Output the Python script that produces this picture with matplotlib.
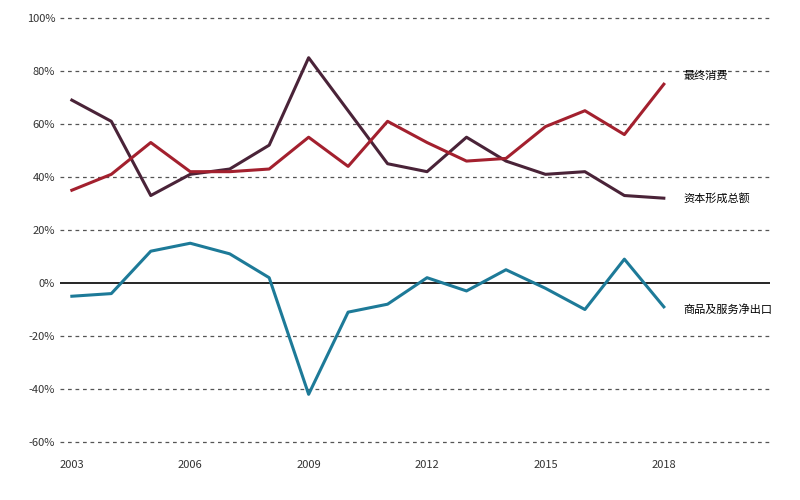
import matplotlib
matplotlib.use("Agg")
import matplotlib.pyplot as plt

plt.rcParams['font.family'] = ['Noto Sans CJK SC', 'DejaVu Sans']

years = list(range(2003, 2019))
consumption = [35, 41, 53, 42, 42, 43, 55, 44, 61, 53, 46, 47, 59, 65, 56, 75]
capital = [69, 61, 33, 41, 43, 52, 85, 65, 45, 42, 55, 46, 41, 42, 33, 32]
net_exports = [-5, -4, 12, 15, 11, 2, -42, -11, -8, 2, -3, 5, -2, -10, 9, -9]
labels = ["最终消费", "资本形成总额", "商品及服务净出口"]
xticks = [2003, 2006, 2009, 2012, 2015, 2018]
yticks = list(range(-60, 101, 20))

fig = plt.figure(figsize=(8, 5), dpi=100)
ax = fig.add_axes([0.075, 0.09, 0.8875, 0.89])
for y in yticks:
    if y == 0:
        ax.axhline(0, color='black', lw=1.2)
    else:
        ax.axhline(y, color='#555555', lw=0.9, ls=(0, (3, 3)))
ax.plot(years, capital, color='#4a2338', lw=2.2)
ax.plot(years, consumption, color='#a3202e', lw=2.2)
ax.plot(years, net_exports, color='#1d7a98', lw=2.2)
ax.text(2018.5, 78, labels[0], fontsize=8, va='center')
ax.text(2018.5, 32, labels[1], fontsize=8, va='center')
ax.text(2018.5, -10, labels[2], fontsize=8, va='center')
ax.set_xlim(2002.7, 2020.69)
ax.set_ylim(-64.9, 103)
ax.set_xticks(xticks)
ax.set_yticks(yticks)
ax.set_yticklabels([f"{v}%" for v in yticks])
ax.tick_params(length=0, labelsize=8, colors='#333333')
for s in ax.spines.values():
    s.set_visible(False)
fig.savefig("out.png")
